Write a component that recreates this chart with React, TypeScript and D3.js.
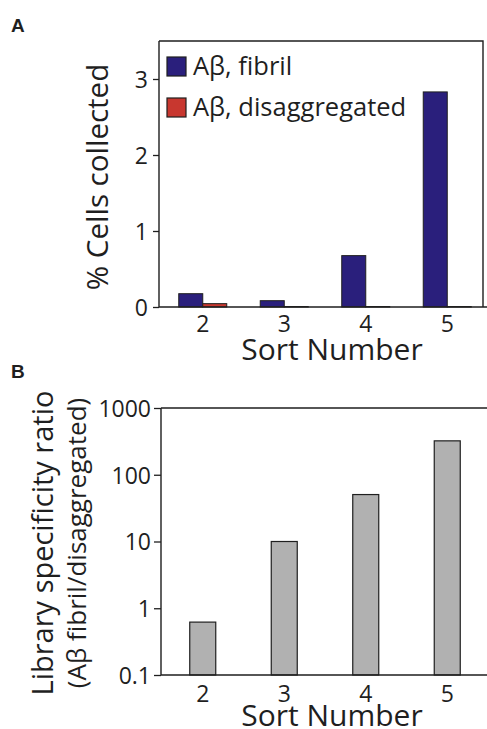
import React, { useEffect, useRef } from 'react';
import * as d3 from 'd3';

// sort rounds shown on both panels
const sortNumbers = ['2', '3', '4', '5'];

// panel A: % cells collected
const fibrilPct = [0.175, 0.083, 0.676, 2.83];
const disaggPct = [0.044, 0.006, 0.006, 0.006];
const pctTicks = [0, 1, 2, 3];

// panel B: specificity ratio (log scale)
const specificityRatio = [0.62, 10, 50.5, 322];
const ratioTicks = [0.1, 1, 10, 100, 1000];

const seriesNames = ['Aβ, fibril', 'Aβ, disaggregated'];
const seriesColors = ['#2a1f7c', '#c8372f'];

const FONT = '"Open Sans", "Noto Sans", sans-serif';
const INK = '#1f1f1f';

export default function App() {
    const ref = useRef<SVGSVGElement>(null);

    useEffect(() => {
        const svg = d3.select(ref.current);
        svg.selectAll('*').remove();

        const x = d3.scalePoint<string>()
            .domain(sortNumbers)
            .range([162, 488])
            .padding(0.5);

        // ---------- panel A ----------
        const yA = d3.scaleLinear().domain([0, 3.5]).range([307, 41]);
        const sub = d3.scaleBand<number>().domain([0, 1]).range([-24, 24]);

        const gA = svg.append('g');

        // bars
        const groups = gA.selectAll('g.grp')
            .data(sortNumbers)
            .enter().append('g')
            .attr('class', 'grp')
            .attr('transform', d => `translate(${x(d)},0)`);

        groups.selectAll('rect')
            .data((d, i) => [fibrilPct[i], disaggPct[i]])
            .enter().append('rect')
            .attr('x', (d, j) => sub(j)!)
            .attr('width', sub.bandwidth())
            .attr('y', d => yA(d))
            .attr('height', d => yA(0) - yA(d))
            .attr('fill', (d, j) => seriesColors[j])
            .attr('stroke', INK)
            .attr('stroke-width', 1);

        // frame
        gA.append('path')
            .attr('d', `M${159},${yA(0)}H${487}M${159},${yA(3.5)}H${483}V${yA(0)}M${159},${yA(3.5)}V${yA(0)}`)
            .attr('fill', 'none')
            .attr('stroke', INK)
            .attr('stroke-width', 1.4);

        // y axis
        const axA = d3.axisLeft(yA).tickValues(pctTicks).tickSize(6).tickFormat(d3.format('d'));
        const axAG = gA.append('g').attr('transform', 'translate(159,0)').call(axA);
        axAG.select('.domain').remove();
        axAG.selectAll('line').attr('stroke', INK).attr('stroke-width', 1.3);
        axAG.selectAll('text')
            .attr('font-family', FONT).attr('font-size', 23).attr('fill', INK)
            .attr('x', -11).attr('dy', '0.36em');

        // x labels
        gA.selectAll('text.xt')
            .data(sortNumbers)
            .enter().append('text')
            .attr('class', 'xt')
            .attr('x', d => x(d)!)
            .attr('y', yA(0) + 25)
            .attr('text-anchor', 'middle')
            .attr('font-family', FONT).attr('font-size', 23).attr('fill', INK)
            .text(d => d);

        gA.append('text')
            .attr('x', 332).attr('y', 360)
            .attr('text-anchor', 'middle')
            .attr('font-family', FONT).attr('font-size', 30).attr('fill', INK)
            .text('Sort Number');

        gA.append('text')
            .attr('transform', 'translate(108,177) rotate(-90)')
            .attr('text-anchor', 'middle')
            .attr('font-family', FONT).attr('font-size', 29.5).attr('fill', INK)
            .text('% Cells collected');

        // legend
        const leg = gA.selectAll('g.leg')
            .data(seriesNames)
            .enter().append('g')
            .attr('class', 'leg')
            .attr('transform', (d, i) => `translate(167,${57 + i * 41})`);
        leg.append('rect')
            .attr('width', 19).attr('height', 19)
            .attr('fill', (d, i) => seriesColors[i])
            .attr('stroke', INK).attr('stroke-width', 1.2);
        leg.append('text')
            .attr('x', 26).attr('y', 18)
            .attr('font-family', FONT).attr('font-size', 25.5).attr('fill', INK)
            .text(d => d);

        gA.append('text')
            .attr('x', 11).attr('y', 32)
            .attr('font-family', '"Liberation Sans", Arial, sans-serif')
            .attr('font-weight', 'bold').attr('font-size', 19).attr('fill', INK)
            .text('A');

        // ---------- panel B ----------
        const yB = d3.scaleLog().domain([0.1, 1000]).range([675, 408]);
        const gB = svg.append('g');

        gB.selectAll('rect')
            .data(specificityRatio)
            .enter().append('rect')
            .attr('x', (d, i) => x(sortNumbers[i])! - 13)
            .attr('width', 26)
            .attr('y', d => yB(d))
            .attr('height', d => yB(0.1) - yB(d))
            .attr('fill', '#b1b1b1')
            .attr('stroke', INK)
            .attr('stroke-width', 1.2);

        gB.append('path')
            .attr('d', `M${161},${yB(0.1)}H${487}M${161},${yB(1000)}H${487}M${161},${yB(1000)}V${yB(0.1)}`)
            .attr('fill', 'none')
            .attr('stroke', INK)
            .attr('stroke-width', 1.4);

        const axB = d3.axisLeft(yB).tickValues(ratioTicks).tickSize(7).tickFormat(d => String(d));
        const axBG = gB.append('g').attr('transform', 'translate(161,0)').call(axB);
        axBG.select('.domain').remove();
        axBG.selectAll('line').attr('stroke', INK).attr('stroke-width', 1.3);
        axBG.selectAll('text')
            .attr('font-family', FONT).attr('font-size', 23).attr('fill', INK)
            .attr('x', -10).attr('dy', '0.36em');

        gB.selectAll('text.xt')
            .data(sortNumbers)
            .enter().append('text')
            .attr('class', 'xt')
            .attr('x', d => x(d)!)
            .attr('y', yB(0.1) + 27)
            .attr('text-anchor', 'middle')
            .attr('font-family', FONT).attr('font-size', 23).attr('fill', INK)
            .text(d => d);

        gB.append('text')
            .attr('x', 332).attr('y', 726)
            .attr('text-anchor', 'middle')
            .attr('font-family', FONT).attr('font-size', 30).attr('fill', INK)
            .text('Sort Number');

        gB.append('text')
            .attr('transform', 'translate(53,543) rotate(-90)')
            .attr('text-anchor', 'middle')
            .attr('font-family', FONT).attr('font-size', 29).attr('fill', INK)
            .text('Library specificity ratio');
        gB.append('text')
            .attr('transform', 'translate(86,543) rotate(-90)')
            .attr('text-anchor', 'middle')
            .attr('font-family', FONT).attr('font-size', 26).attr('fill', INK)
            .text('(Aβ fibril/disaggregated)');

        gB.append('text')
            .attr('x', 11).attr('y', 378)
            .attr('font-family', '"Liberation Sans", Arial, sans-serif')
            .attr('font-weight', 'bold').attr('font-size', 19).attr('fill', INK)
            .text('B');
    }, []);

    return (
        <svg
            ref={ref}
            width={487}
            height={729}
            style={{ position: 'absolute', left: 0, top: 0, background: '#fff' }}
        />
    );
}
